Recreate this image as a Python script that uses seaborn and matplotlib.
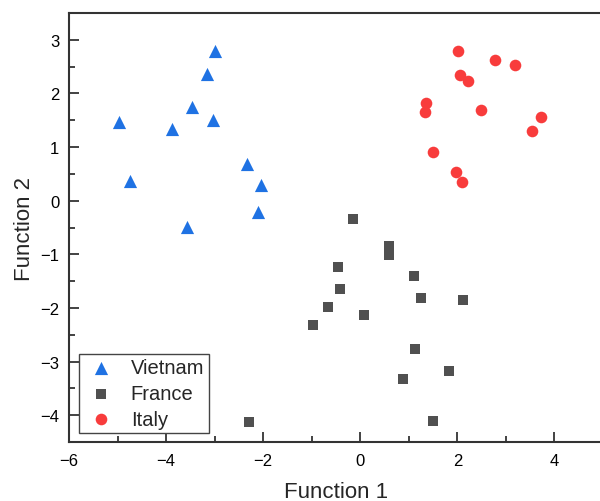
import matplotlib
matplotlib.use("Agg")
import matplotlib.pyplot as plt
from matplotlib.ticker import MultipleLocator
import seaborn as sns
import pandas as pd

# values
vietnam_x = [-2.99, -3.15, -3.46, -3.04, -4.96, -3.88, -4.74, -2.34, -2.05, -2.10, -3.56]
vietnam_y = [2.80, 2.36, 1.74, 1.51, 1.47, 1.33, 0.37, 0.68, 0.30, -0.21, -0.49]

france_x = [-0.16, 0.59, 0.59, -0.45, 1.10, -0.42, 1.25, 2.12, -0.66, 0.08,
            -0.97, 1.13, 1.83, 0.88, 1.50, -2.29]
france_y = [-0.34, -0.84, -1.02, -1.23, -1.40, -1.64, -1.81, -1.86, -1.99, -2.14,
            -2.32, -2.76, -3.18, -3.33, -4.11, -4.12]

italy_x = [2.02, 2.78, 3.19, 2.05, 2.22, 1.35, 1.34, 2.49, 3.72, 3.54, 1.50, 1.97, 2.09]
italy_y = [2.79, 2.62, 2.53, 2.34, 2.24, 1.82, 1.66, 1.70, 1.57, 1.30, 0.90, 0.53, 0.35]

groups = ["Vietnam", "France", "Italy"]
colors = {"Vietnam": "#1f72e3", "France": "#505050", "Italy": "#f83c3c"}
markers = {"Vietnam": "^", "France": "s", "Italy": "o"}
sizes = {"Vietnam": 90, "France": 52, "Italy": 70}

df = pd.concat([
    pd.DataFrame({"f1": vietnam_x, "f2": vietnam_y, "country": "Vietnam"}),
    pd.DataFrame({"f1": france_x, "f2": france_y, "country": "France"}),
    pd.DataFrame({"f1": italy_x, "f2": italy_y, "country": "Italy"}),
])

sns.set_theme(style="ticks")
plt.rcParams["font.family"] = ["Liberation Sans", "DejaVu Sans"]

fig = plt.figure(figsize=(6.0, 5.02), dpi=100)
ax = fig.add_axes([0.115, 0.1175, 0.89, 0.8546])

for g in groups:
    sub = df[df["country"] == g]
    sns.scatterplot(data=sub, x="f1", y="f2", ax=ax, color=colors[g],
                    marker=markers[g], s=sizes[g], linewidth=0, label=g)

ax.set_xlim(-6, 5)
ax.set_ylim(-4.5, 3.5)
ax.xaxis.set_major_locator(MultipleLocator(2))
ax.xaxis.set_minor_locator(MultipleLocator(1))
ax.yaxis.set_major_locator(MultipleLocator(1))
ax.yaxis.set_minor_locator(MultipleLocator(0.5))
ax.tick_params(which="both", direction="in", colors="#222222", labelcolor="black",
               labelsize=12, width=1.2)
ax.tick_params(which="major", length=7)
ax.tick_params(which="minor", length=4)
ax.tick_params(axis="x", pad=8)
ax.tick_params(axis="y", pad=7)
for sp in ax.spines.values():
    sp.set_linewidth(1.5)
    sp.set_color("#333333")

# the reference sits its x label right on the bottom edge
ax.set_xlabel("Function 1", fontsize=16, labelpad=9)
ax.set_ylabel("Function 2", fontsize=16, labelpad=4)

leg = ax.legend(loc="lower left", bbox_to_anchor=(0.018, 0.021), borderaxespad=0,
                fontsize=14.5, frameon=True, fancybox=False, framealpha=1,
                edgecolor="#444444", handlelength=1.77, handletextpad=0.6,
                borderpad=0.22, labelspacing=0.33)
leg.get_frame().set_linewidth(1.0)

fig.savefig("out.png", dpi=100)
